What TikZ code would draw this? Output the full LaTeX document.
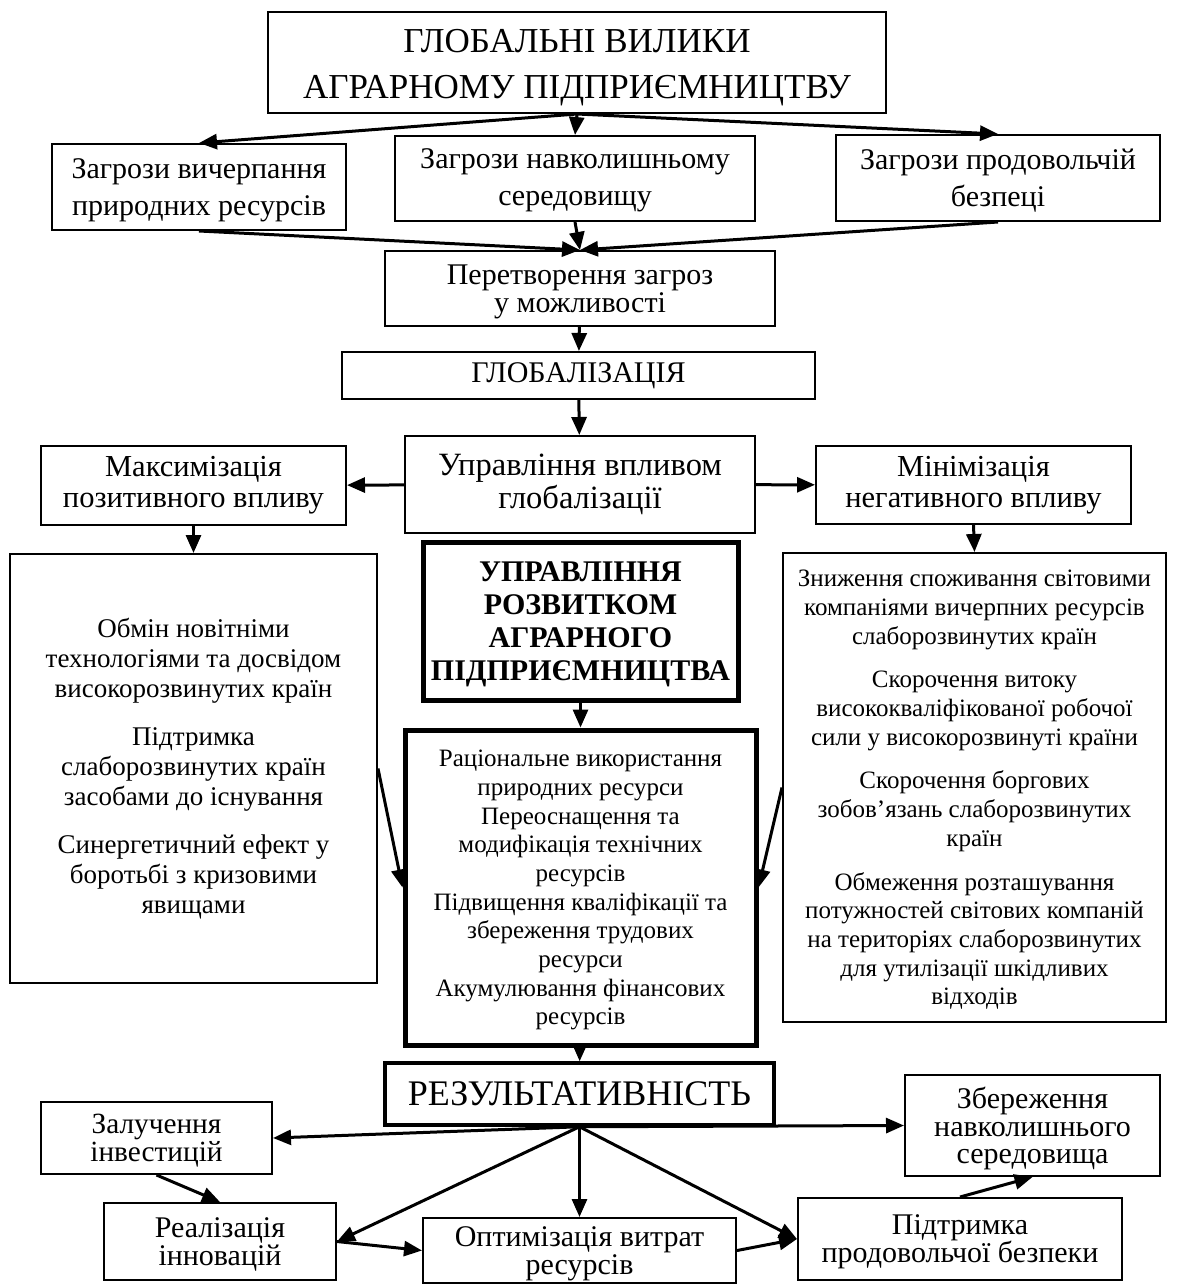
\documentclass[tikz,border=0pt]{standalone}
\usepackage{fontspec}
\setmainfont{Liberation Serif}
\usetikzlibrary{arrows.meta, positioning}
\lineskiplimit=-50pt

\begin{document}
\begin{tikzpicture}[x=1pt, y=-1pt,
  box/.style={rectangle, draw, line width=2pt, align=center, inner sep=2pt, font=\fontsize{30}{37}\selectfont},
  thickbox/.style={box, line width=5pt},
  arrow/.style={-{Triangle[length=18pt,width=15pt]}, line width=3pt}
]
\useasboundingbox (0,0) rectangle (1176,1285);

% top
\node[box, minimum width=618pt, minimum height=101pt, font=\fontsize{35}{46}\selectfont] (glob) at (577,62.5)
  {\rule{0pt}{34pt}ГЛОБАЛЬНІ ВИЛИКИ\\АГРАРНОМУ ПІДПРИЄМНИЦТВУ};

% threats
\node[box, minimum width=294pt, minimum height=86pt, text depth=-9pt] (thrres) at (199,187) {Загрози вичерпання\\природних ресурсів};
\node[box, minimum width=360pt, minimum height=85pt, text depth=2pt] (threnv) at (575,178.5) {Загрози навколишньому\\середовищу};
\node[box, minimum width=324pt, minimum height=86pt, text depth=0pt] (thrfood) at (998,178) {Загрози продовольчій\\безпеці};

\node[box, minimum width=390pt, minimum height=75pt, text depth=0pt, font=\fontsize{30}{27.5}\selectfont] (transf) at (580,288.5) {Перетворення загроз\\у можливості};
\node[box, minimum width=473pt, minimum height=47pt] (glbz) at (578.5,375.5) {ГЛОБАЛІЗАЦІЯ};

% management of influence
\node[box, minimum width=350pt, minimum height=97pt, font=\fontsize{32.5}{33}\selectfont] (mgmt) at (580,484.5) {Управління впливом\\глобалізації};
\node[box, minimum width=305pt, minimum height=79pt, font=\fontsize{30.5}{31}\selectfont] (maxim) at (193.5,485.5) {Максимізація\\позитивного впливу};
\node[box, minimum width=315pt, minimum height=78pt, font=\fontsize{30.5}{31}\selectfont] (minim) at (973.5,485) {Мінімізація\\негативного впливу};

\node[thickbox, minimum width=315pt, minimum height=158pt, text depth=0pt, font=\fontsize{30}{33}\selectfont\bfseries] (mgdev) at (580.5,621)
  {УПРАВЛІННЯ\\РОЗВИТКОМ\\АГРАРНОГО\\ПІДПРИЄМНИЦТВА};

\node[box, minimum width=367pt, minimum height=429pt, font=\fontsize{27}{30}\selectfont] (posbox) at (193.5,768.5)
  {Обмін новітніми\\технологіями та досвідом\\високорозвинутих країн\\[18pt]
   Підтримка\\слаборозвинутих країн\\засобами до існування\\[18pt]
   Синергетичний ефект у\\боротьбі з кризовими\\явищами};
\node[box, minimum width=383pt, minimum height=469pt, text depth=0pt, font=\fontsize{25}{28.7}\selectfont] (negbox) at (974.5,787.5)
  {Зниження споживання світовими\\компаніями вичерпних ресурсів\\слаборозвинутих країн\\[15pt]
   Скорочення витоку\\висококваліфікованої робочої\\сили у високорозвинуті країни\\[15pt]
   Скорочення боргових\\зобов’язань слаборозвинутих\\країн\\[15pt]
   Обмеження розташування\\потужностей світових компаній\\на територіях слаборозвинутих\\для утилізації шкідливих\\відходів};
\node[thickbox, minimum width=351pt, minimum height=315pt, text depth=0pt, font=\fontsize{25}{28.7}\selectfont] (resbox) at (580.5,887.5)
  {Раціональне використання\\природних ресурси\\Переоснащення та\\модифікація технічних\\ресурсів\\
   Підвищення кваліфікації та\\збереження трудових\\ресурси\\Акумулювання фінансових\\ресурсів};

% results
\node[box, line width=3.5pt, minimum width=389pt, minimum height=62pt, text depth=0pt, font=\fontsize{36}{38}\selectfont] (result) at (579.5,1094) {РЕЗУЛЬТАТИВНІСТЬ};
\node[box, minimum width=231pt, minimum height=72pt, text depth=-5pt, font=\fontsize{29.3}{28}\selectfont] (invest) at (156.5,1138) {Залучення\\інвестицій};
\node[box, minimum width=232pt, minimum height=77pt, text depth=0pt, font=\fontsize{30}{28}\selectfont] (innov) at (220,1241.5) {Реалізація\\інновацій};
\node[box, minimum width=313pt, minimum height=65pt, text depth=-8pt, font=\fontsize{30}{28}\selectfont] (optim) at (579.5,1250.5) {Оптимізація витрат\\ресурсів};
\node[box, minimum width=324pt, minimum height=82pt, text depth=0pt, font=\fontsize{30}{28}\selectfont] (food) at (960,1239) {Підтримка\\продовольчої безпеки};
\node[box, minimum width=255pt, minimum height=101pt, text depth=-3pt, font=\fontsize{30}{27.5}\selectfont] (envsave) at (1032.5,1125.5) {Збереження\\навколишнього\\середовища};

% connectors
\draw[arrow] (glob.south) -- (thrres.north);
\draw[arrow] (glob.south) -- (threnv.north);
\draw[arrow] (glob.south) -- (thrfood.north);
\draw[arrow] (thrres.south) -- (transf.north);
\draw[arrow] (threnv.south) -- (transf.north);
\draw[arrow] (thrfood.south) -- (transf.north);
\draw[arrow] (transf) -- (glbz);
\draw[arrow] (glbz) -- (mgmt);
\draw[arrow] (mgmt) -- (maxim);
\draw[arrow] (mgmt) -- (minim);
\draw[arrow] (maxim.south) -- (posbox.north);
\draw[arrow] (minim.south) -- (negbox.north);
\draw[arrow] (mgdev) -- (resbox);
\draw[arrow] (posbox.east) -- (resbox.west);
\draw[arrow] (negbox.west) -- (resbox.east);
\draw[arrow] (resbox) -- (result);
\draw[arrow] (result.south) -- (invest.east);
\draw[arrow] (result.south) -- (envsave.west);
\draw[arrow] (result.south) -- (innov.east);
\draw[arrow] (result.south) -- (optim.north);
\draw[arrow] (result.south) -- (food.west);
\draw[arrow] (invest.south) -- (innov.north);
\draw[arrow] (innov.east) -- (optim.west);
\draw[arrow] (optim.east) -- (food.west);
\draw[arrow] (food.north) -- (envsave.south);
\end{tikzpicture}
\end{document}
